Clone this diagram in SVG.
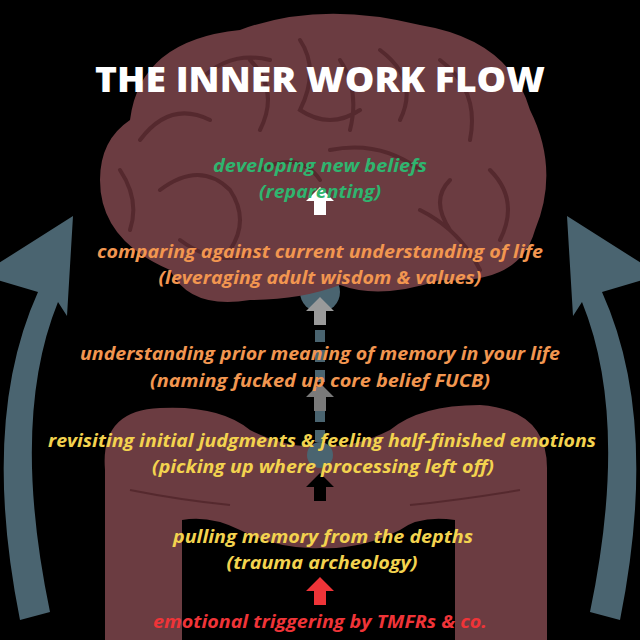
<svg xmlns="http://www.w3.org/2000/svg" width="640" height="640" viewBox="0 0 640 640">
<defs>
<style>
.t{font-family:"Open Sans","Liberation Sans",sans-serif;font-weight:700;font-style:italic;font-size:17px;text-anchor:middle}
.g{fill:#2fb56f}.o{fill:#f29650}.y{fill:#f3d34f}.r{fill:#ef3438}
.sul{fill:none;stroke:#55292e;stroke-width:4;stroke-linecap:round}
.side{fill:#4a6470}
</style>
<path id="arw" d="M-14 0 L0 -14 L14 0 L6 0 L6 14 L-6 14 L-6 0 Z"/>
</defs>
<rect width="640" height="640" fill="#000"/>
<g id="sides" class="side">
<path d="M20 620 Q-20 420 38 292 L-20 275 L73 216 L67 316 L58 302 Q10 420 50 612 Z"/>
<path d="M620 620 Q660 420 602 292 L660 275 L567 216 L573 316 L582 302 Q630 420 590 612 Z"/>
</g>
<g id="brain">
<circle cx="320" cy="292" r="20" fill="#4a6470"/>
<path d="M130 120 Q140 40 240 30 Q320 0 420 25 Q510 40 530 110 Q560 170 535 230 Q520 285 440 280 Q380 300 340 285 Q300 300 250 300 Q190 310 170 270 Q100 240 100 180 Q100 140 130 120 Z" fill="#6b3c41"/>
<path class="sul" d="M140 140 Q170 100 210 120 M160 190 Q200 160 230 190 Q250 220 230 250 M250 60 Q280 90 260 130 M300 40 Q320 70 300 110 Q330 130 360 110 M380 50 Q420 80 400 120 M440 60 Q480 90 470 140 M490 170 Q520 200 500 240 M200 80 Q230 50 270 60 M330 150 Q380 140 420 170 M260 170 Q300 150 320 180 M420 210 Q460 230 480 270 M180 240 Q220 270 260 250 M120 170 Q140 200 130 230 M340 60 Q360 90 350 130 M450 180 Q430 200 450 230"/>
</g>
<g id="gut">
<path d="M105 640 L105 470 Q100 410 160 408 Q220 405 250 430 Q290 450 320 445 Q350 450 390 430 Q420 405 480 405 Q548 410 547 470 L547 640 L455 640 L455 520 Q420 515 400 530 Q360 550 320 548 Q280 550 240 530 Q210 515 182 520 L182 640 Z" fill="#6b3c41"/>
<path d="M130 490 Q180 500 230 505 M410 505 Q460 500 520 490" fill="none" stroke="#55292e" stroke-width="2"/>
<circle cx="320" cy="455" r="13" fill="#4a6470"/>
</g>
<g id="connectors">
<line x1="320" y1="330" x2="320" y2="448" stroke="#4a6470" stroke-width="10" stroke-dasharray="12 8"/>
<use href="#arw" x="320" y="201" fill="#fff"/>
<use href="#arw" x="320" y="311" fill="#9a9a9a"/>
<use href="#arw" x="320" y="397" fill="#7a7a7a"/>
<use href="#arw" x="320" y="487" fill="#000"/>
<use href="#arw" x="320" y="591" fill="#ef3438"/>
</g>
<text x="320" y="92" font-family="'Open Sans','Liberation Sans',sans-serif" font-weight="800" font-size="36" fill="#fff" text-anchor="middle" textLength="450" lengthAdjust="spacingAndGlyphs">THE INNER WORK FLOW</text>
<g id="n6"><text class="t g" x="320" y="172" textLength="214" lengthAdjust="spacingAndGlyphs">developing new beliefs</text><text class="t g" x="320" y="198" textLength="122" lengthAdjust="spacingAndGlyphs">(reparenting)</text></g>
<g id="n5"><text class="t o" x="320" y="258" textLength="446" lengthAdjust="spacingAndGlyphs">comparing against current understanding of life</text><text class="t o" x="320" y="284" textLength="323" lengthAdjust="spacingAndGlyphs">(leveraging adult wisdom &amp; values)</text></g>
<g id="n4"><text class="t o" x="320" y="360" textLength="480" lengthAdjust="spacingAndGlyphs">understanding prior meaning of memory in your life</text><text class="t o" x="320" y="387" textLength="340" lengthAdjust="spacingAndGlyphs">(naming fucked up core belief FUCB)</text></g>
<g id="n3"><text class="t y" x="322" y="447" textLength="548" lengthAdjust="spacingAndGlyphs">revisiting initial judgments &amp; feeling half-finished emotions</text><text class="t y" x="323" y="473" textLength="342" lengthAdjust="spacingAndGlyphs">(picking up where processing left off)</text></g>
<g id="n2"><text class="t y" x="323" y="543" textLength="300" lengthAdjust="spacingAndGlyphs">pulling memory from the depths</text><text class="t y" x="322" y="569" textLength="191" lengthAdjust="spacingAndGlyphs">(trauma archeology)</text></g>
<g id="n1"><text class="t r" x="320" y="628" textLength="334" lengthAdjust="spacingAndGlyphs">emotional triggering by TMFRs &amp; co.</text></g>
</svg>
